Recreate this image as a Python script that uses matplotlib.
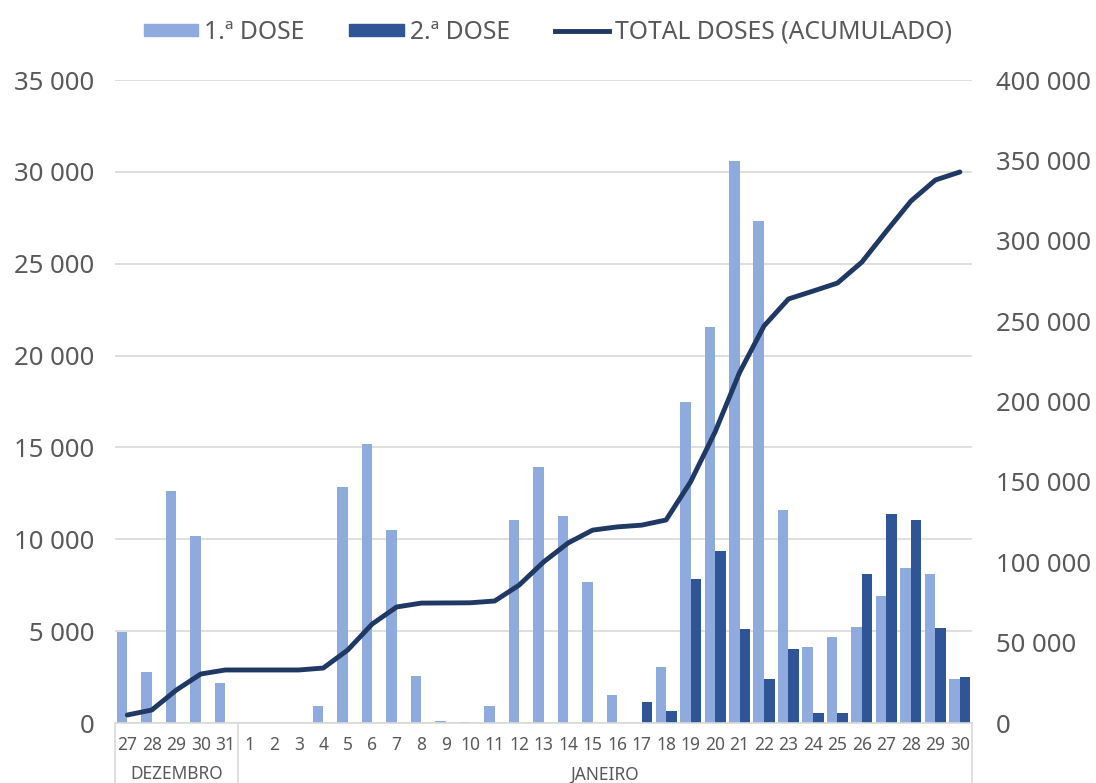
import numpy as np
import matplotlib.pyplot as plt
from matplotlib.ticker import FuncFormatter
from matplotlib.patches import Patch
from matplotlib.lines import Line2D

plt.rcParams['font.family'] = ['Noto Sans', 'DejaVu Sans']

days = ['27', '28', '29', '30', '31'] + [str(d) for d in range(1, 31)]
months = ['DEZEMBRO', 'JANEIRO']
month_len = [5, 30]

dose1 = [4950, 2780, 12630, 10180, 2180, 0, 0, 0, 925, 12850,
         15190, 10500, 2560, 100, 50, 925, 11050, 13935, 11270, 7675,
         1525, 0, 3050, 17470, 21560, 30590, 27330, 11590, 4140, 4680,
         5225, 6910, 8435, 8110, 2395]
dose2 = [0, 0, 0, 0, 0, 0, 0, 0, 0, 0,
         0, 0, 0, 0, 0, 0, 0, 0, 0, 0,
         0, 1140, 650, 7840, 9360, 5115, 2395, 4030, 545, 545,
         8110, 11375, 11050, 5170, 2500]
total = [5000, 8100, 20500, 30500, 33000, 33000, 33000, 33000, 34200, 45400,
         61600, 72200, 74600, 74700, 74800, 75900, 85800, 100200, 112000, 120000,
         122000, 123100, 126300, 150000, 181000, 218000, 247000, 263800, 268700, 273700,
         286800, 306000, 324700, 337800, 342800]

c1 = '#8faadc'
c2 = '#2f5597'
cl = '#203864'
grey = '#595959'

fig = plt.figure(figsize=(10.96, 7.83), dpi=100)
ax = fig.add_axes([0.105, 0.0766, 0.782, 0.8212])
x = np.arange(len(days))
w = 0.43
ax.bar(x - w/2, dose1, w, color=c1, zorder=2)
ax.bar(x + w/2, dose2, w, color=c2, zorder=2)
ax.set_xlim(-0.5, len(days) - 0.5)
ax.set_ylim(0, 35000)
ax.set_yticks(np.arange(0, 35001, 5000))
fmt = FuncFormatter(lambda v, p: f'{int(v):,}'.replace(',', ' '))
ax.yaxis.set_major_formatter(fmt)
ax.grid(axis='y', color='#d9d9d9', linewidth=1.2, zorder=0)
ax.set_axisbelow(True)
for s in ['top', 'right', 'left']:
    ax.spines[s].set_visible(False)
ax.spines['bottom'].set_color('#d9d9d9')
ax.spines['bottom'].set_linewidth(1.2)
ax.set_xticks(x)
ax.set_xticklabels(days, fontsize=12.5, color=grey, fontweight='light')
ax.tick_params(axis='x', length=0, pad=9)
ax.tick_params(axis='y', length=0, labelsize=18.5, labelcolor=grey, pad=15)
for t in ax.get_yticklabels():
    t.set_fontweight('light')

ax2 = ax.twinx()
ax2.plot(x, total, color=cl, linewidth=3.5, solid_capstyle='round', zorder=3)
ax2.set_ylim(0, 400000)
ax2.set_yticks(np.arange(0, 400001, 50000))
ax2.yaxis.set_major_formatter(fmt)
ax2.tick_params(axis='y', length=0, labelsize=18.5, labelcolor=grey, pad=17)
for t in ax2.get_yticklabels():
    t.set_fontweight('light')
for s in ax2.spines.values():
    s.set_visible(False)

# month group labels and separators
trans = ax.get_xaxis_transform()
start = 0
bounds = [-0.5]
for m, n in zip(months, month_len):
    ax.text(start + (n - 1) / 2, -0.08, m, transform=trans, ha='center', va='center',
            fontsize=12.5, color=grey, fontweight='light')
    start += n
    bounds.append(start - 0.5)
for b in bounds:
    ax.plot([b, b], [0, -0.1], transform=trans, color='#d9d9d9', linewidth=1.2, clip_on=False)

handles = [Patch(color=c1), Patch(color=c2), Line2D([], [], color=cl, linewidth=3.5)]
leg = fig.legend(handles, ['1.ª DOSE', '2.ª DOSE', 'TOTAL DOSES (ACUMULADO)'], loc='upper center',
                 bbox_to_anchor=(0.5, 1.003), ncol=3, frameon=False,
                 prop={'size': 17.8, 'weight': 'light'}, labelcolor=grey,
                 handlelength=2.2, handleheight=0.4, handletextpad=0.25, columnspacing=1.8)

fig.savefig('out.png', dpi=100)
